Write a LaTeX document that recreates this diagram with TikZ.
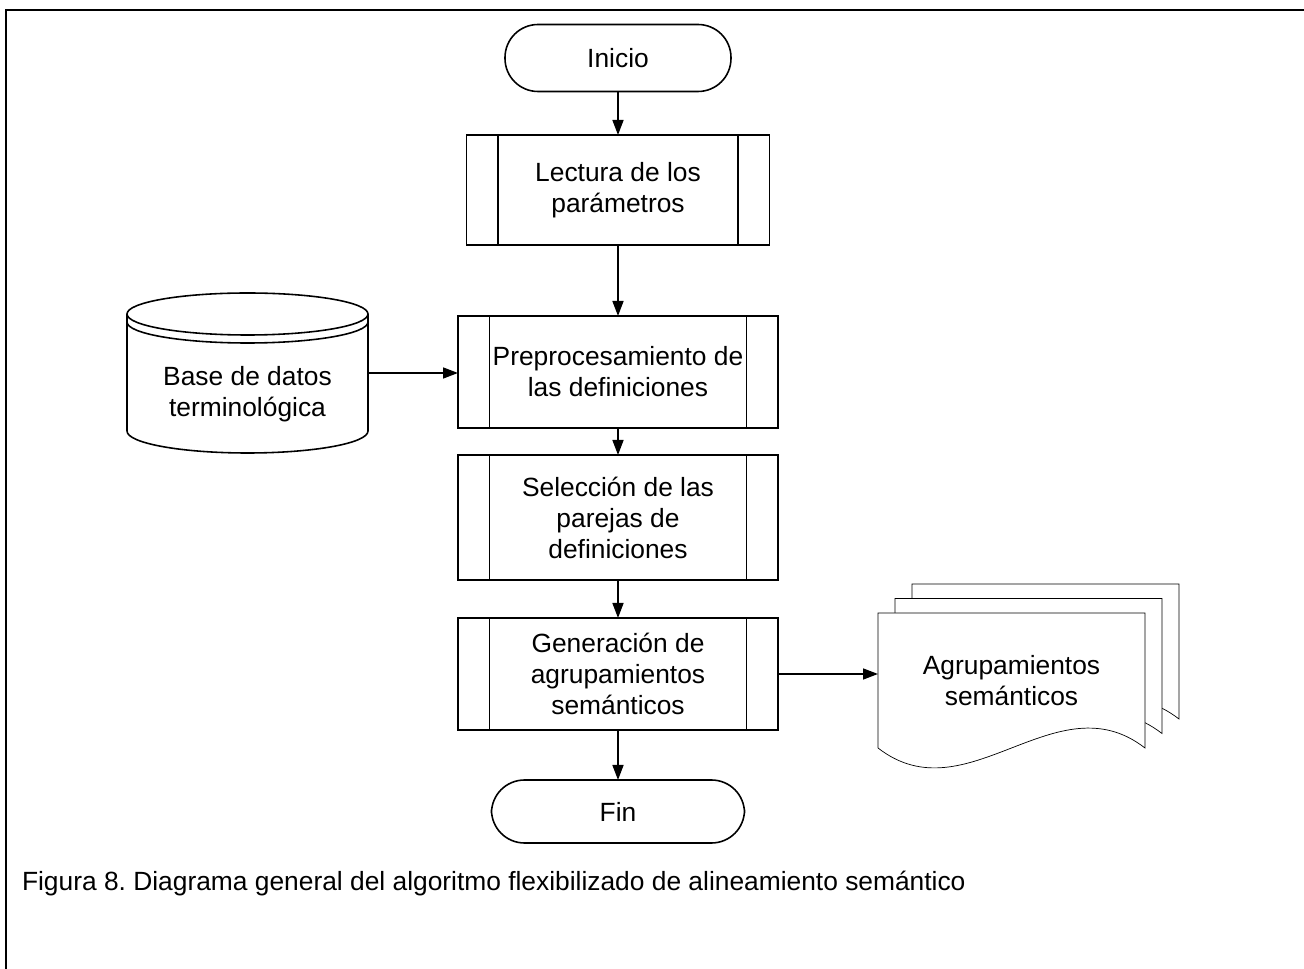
\documentclass[tikz,border=0pt]{standalone}
\usepackage{fontspec}
\setmainfont{Liberation Sans}
\usetikzlibrary{arrows.meta}
\usetikzlibrary{backgrounds}

\begin{document}
\begin{tikzpicture}[
    line width=0.9pt,
    every node/.style={font=\fontsize{15}{17.6}\selectfont, align=center, outer sep=0pt},
    term/.style={draw, rounded corners=0.66cm, minimum width=4.52cm, minimum height=1.34cm},
    proc/.style={draw, minimum width=6.4cm, minimum height=2.24cm,
        path picture={
            \draw ([xshift=0.63cm]path picture bounding box.north west) -- ([xshift=0.63cm]path picture bounding box.south west);
            \draw ([xshift=-0.63cm]path picture bounding box.north east) -- ([xshift=-0.63cm]path picture bounding box.south east);
        }},
    store/.style={minimum width=4.82cm, minimum height=3.2cm},
    doc/.style={minimum width=5.34cm, minimum height=2.7cm},
    arr/.style={-{Triangle[length=0.3cm, width=0.22cm]}},
]
\useasboundingbox (0,0) rectangle (26.08,-19.38);

% Frame
\draw (0.12,-19.38) -- (0.12,-0.2) -- (26.08,-0.2);

% Flow
\node[term] (inicio) at (12.36,-1.16) {Inicio};
\node[proc, minimum width=6.06cm, minimum height=2.2cm] (lectura) at (12.36,-3.8) {Lectura de los\\parámetros};
\node[proc] (preproc) at (12.36,-7.44) {Preprocesamiento de\\las definiciones};
\node[proc, minimum height=2.5cm] (seleccion) at (12.36,-10.35) {Selección de las\\parejas de\\definiciones};
\node[proc] (generacion) at (12.36,-13.48) {Generación de\\agrupamientos\\semánticos};
\node[term, minimum width=5.06cm, minimum height=1.26cm] (fin) at (12.36,-16.23) {Fin};

% Database
\node[store] (db) at (4.95,-7.46) {};
\draw ([yshift=-0.42cm]db.north west) -- ([yshift=0.44cm]db.south west)
    arc[start angle=180, end angle=360, x radius=2.41cm, y radius=0.44cm]
    -- ([yshift=-0.42cm]db.north east)
    arc[start angle=0, end angle=360, x radius=2.41cm, y radius=0.42cm];
\draw ([yshift=-0.58cm]db.north west) arc[start angle=180, end angle=360, x radius=2.41cm, y radius=0.42cm];
\node (dbtxt) at ([yshift=-0.42cm]db.center) {Base de datos\\terminológica};

% Output documents
\node[doc] (agr) at (20.23,-13.61) {Agrupamientos\\semánticos};
\begin{scope}[on background layer]
\foreach \k in {2,1,0}
    \draw[fill=white] ([xshift=\k*3.4mm, yshift=\k*2.9mm]agr.north west)
        -- ([xshift=\k*3.4mm, yshift=\k*2.9mm]agr.north east)
        -- ([xshift=\k*3.4mm, yshift=\k*2.9mm]agr.south east)
        .. controls +(-1.78,1.38) and +(1.78,-1.38) .. ([xshift=\k*3.4mm, yshift=\k*2.9mm]agr.south west)
        -- cycle;
\end{scope}

% Arrows
\draw[arr] (inicio) -- (lectura);
\draw[arr] (lectura) -- (preproc);
\draw[arr] (preproc) -- (seleccion);
\draw[arr] (seleccion) -- (generacion);
\draw[arr] (generacion) -- (fin);
\draw[arr] (db.east) -- (db.east -| preproc.west);
\draw[arr] (generacion.east) -- (generacion.east -| agr.west);

% Caption
\node[anchor=west, inner sep=0pt] (caption) at (0.44,-17.68) {Figura 8.\ Diagrama general del algoritmo flexibilizado de alineamiento semántico};

\end{tikzpicture}
\end{document}
